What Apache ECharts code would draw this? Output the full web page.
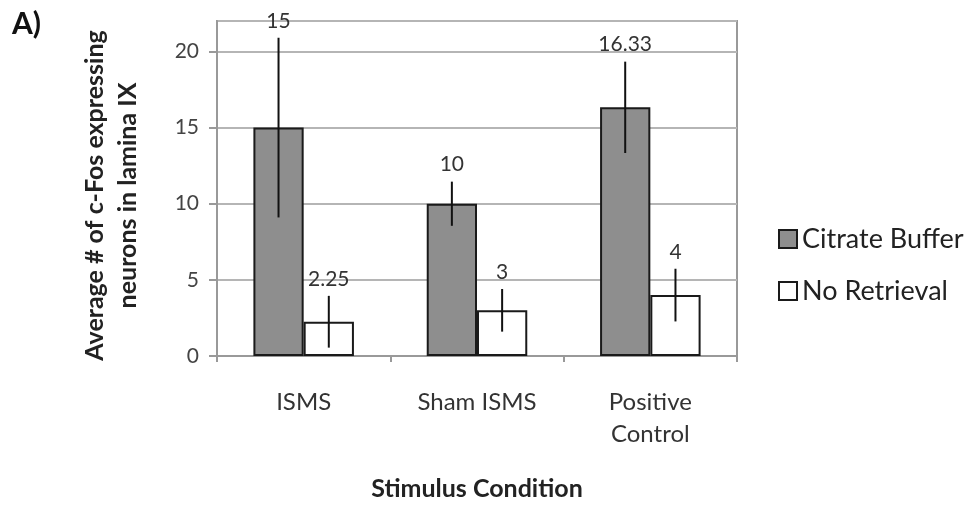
<!DOCTYPE html>
<html>
<head>
<meta charset="utf-8">
<script src="https://cdn.jsdelivr.net/npm/echarts@6/dist/echarts.min.js"></script>
<style>
  html, body { margin: 0; padding: 0; background: #fff; }
  #chart { width: 970px; height: 506px; }
</style>
</head>
<body>
<div id="chart"></div>
<script>
  // data
  var categories = ['ISMS', 'Sham ISMS', 'Positive\nControl'];
  var citrate = [15, 10, 16.33];
  var citrateErr = [5.9, 1.45, 3.0];
  var noRetrieval = [2.25, 3, 4];
  var noRetrievalErr = [1.7, 1.4, 1.73];
  var valueLabels = [['15', '10', '16.33'], ['2.25', '3', '4']];

  var font = 'Lato, "Open Sans", sans-serif';
  var errData = [];
  for (var i = 0; i < categories.length; i++) {
    errData.push([i, citrate[i], citrateErr[i], 0]);
    errData.push([i, noRetrieval[i], noRetrievalErr[i], 1]);
  }

  var gapRatio = 0.42;

  function renderErr(params, api) {
    var idx = api.value(0);
    var val = api.value(1);
    var err = api.value(2);
    var s = api.value(3);
    var catW = api.size([1, 0])[0];
    var bw = catW * (1 - gapRatio) / 2;
    var c = api.coord([idx, val]);
    var x = c[0] + (s === 0 ? -bw / 2 : bw / 2);
    var top = api.coord([idx, val + err])[1];
    var bot = api.coord([idx, val - err])[1];
    return {
      type: 'group',
      children: [
        { type: 'line', shape: { x1: x, y1: top, x2: x, y2: bot },
          style: { stroke: '#111', lineWidth: 2 } },
        { type: 'text', x: x, y: top - 17,
          style: { text: valueLabels[s][idx], fill: '#333', font: '21px ' + font,
                   align: 'center', verticalAlign: 'middle' } }
      ]
    };
  }

  var chart = echarts.init(document.getElementById('chart'));
  chart.setOption({
    animation: false,
    backgroundColor: '#fff',
    textStyle: { fontFamily: font },
    graphic: [
      { type: 'text', left: 12, top: 9,
        style: { text: 'A)', font: 'bold 30px ' + font, fill: '#111' } }
    ],
    grid: { left: 217, top: 21, width: 520, height: 336, show: true,
            borderColor: '#999', borderWidth: 2, backgroundColor: 'transparent' },
    legend: {
      data: ['Citrate Buffer', 'No Retrieval'],
      orient: 'vertical', left: 773, top: 219, itemGap: 22,
      icon: 'rect', itemWidth: 18, itemHeight: 18,
      textStyle: { fontSize: 27, color: '#222', fontFamily: font, lineHeight: 30 }
    },
    xAxis: {
      type: 'category',
      data: categories,
      name: 'Stimulus Condition',
      nameLocation: 'middle',
      nameGap: 120,
      nameTextStyle: { fontSize: 25, fontWeight: 'bold', color: '#222' },
      axisLine: { lineStyle: { color: '#999', width: 2 } },
      axisTick: { show: true, length: 6, lineStyle: { color: '#999', width: 2 } },
      axisLabel: { margin: 30, fontSize: 24, color: '#333', lineHeight: 32 }
    },
    yAxis: {
      type: 'value',
      min: 0, max: 22, interval: 5,
      name: 'Average # of c-Fos expressing\nneurons in lamina IX',
      nameLocation: 'middle',
      nameRotate: 90,
      nameGap: 73,
      nameTextStyle: { fontSize: 25, fontWeight: 'bold', color: '#222', lineHeight: 33,
                       padding: [0, 14, 0, 0] },
      axisLine: { show: true, lineStyle: { color: '#999', width: 2 } },
      axisTick: { show: true, length: 8, lineStyle: { color: '#999', width: 2 } },
      axisLabel: { showMaxLabel: false, margin: 18, fontSize: 21, color: '#444' },
      splitLine: { lineStyle: { color: '#b5b5b5', width: 2 } }
    },
    series: [
      {
        name: 'Citrate Buffer', type: 'bar', data: citrate,
        barGap: '0%', barCategoryGap: '42%',
        itemStyle: { color: '#8e8e8e', borderColor: '#1a1a1a', borderWidth: 2 }
      },
      {
        name: 'No Retrieval', type: 'bar', data: noRetrieval,
        barGap: '0%', barCategoryGap: '42%',
        itemStyle: { color: '#ffffff', borderColor: '#1a1a1a', borderWidth: 2 }
      },
      {
        name: 'err', type: 'custom', data: errData, renderItem: renderErr, z: 5
      }
    ]
  });
</script>
</body>
</html>
